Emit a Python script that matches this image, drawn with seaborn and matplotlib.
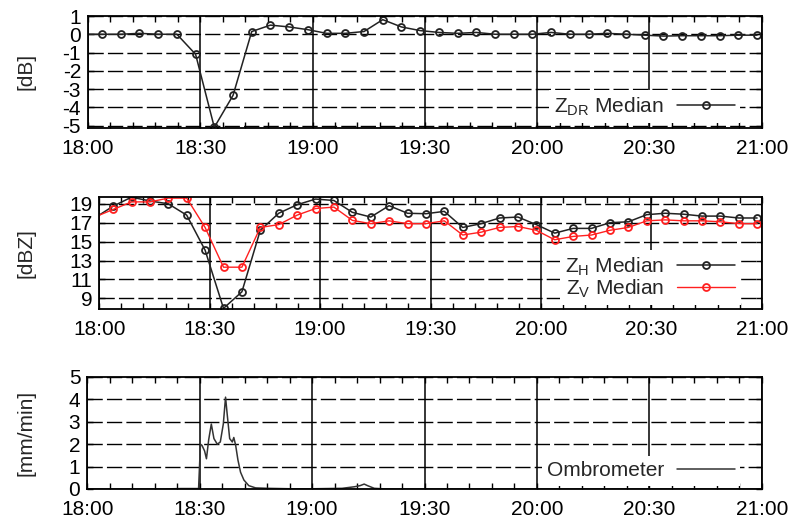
import seaborn as sns
import matplotlib.pyplot as plt
from matplotlib.ticker import FixedLocator, MultipleLocator

# time in minutes after 18:00 (first sample lies just before the axis start)
t_med = [-1.25, 3.75, 8.75, 13.75, 18.75, 23.75, 28.75, 33.75, 38.75, 43.75,
         48.75, 53.75, 58.75, 63.75, 68.75, 73.75, 78.75, 83.75, 88.75, 93.75,
         98.75, 103.75, 108.75, 113.75, 118.75, 123.75, 128.75, 133.75, 138.75,
         143.75, 148.75, 153.75, 158.75, 163.75, 168.75, 173.75, 178.75]

zdr = [0.0, 0.0, 0.0, 0.05, 0.0, 0.0, -1.1, -5.1, -3.35, 0.15, 0.5, 0.4, 0.25,
       0.05, 0.05, 0.15, 0.8, 0.4, 0.2, 0.1, 0.05, 0.1, 0.0, 0.0, 0.0, 0.1, 0.0,
       0.0, 0.05, 0.0, -0.05, -0.1, -0.08, -0.08, -0.08, -0.05, -0.05]

zh = [17.5, 18.75, 19.7, 19.3, 19.0, 17.8, 14.1, 7.95, 9.7, 16.2, 18.0, 18.9,
      19.5, 19.35, 18.1, 17.6, 18.8, 18.0, 17.95, 18.2, 16.5, 16.9, 17.5, 17.6,
      16.8, 15.9, 16.4, 16.4, 17.0, 17.1, 17.85, 18.0, 17.9, 17.7, 17.7, 17.5, 17.5]

zv = [17.6, 18.4, 19.2, 19.2, 19.6, 19.6, 16.5, 12.3, 12.3, 16.5, 16.8, 17.8,
      18.5, 18.65, 17.25, 16.9, 17.2, 16.9, 16.9, 17.2, 15.7, 16.0, 16.5, 16.6,
      16.2, 15.2, 15.55, 15.7, 16.2, 16.5, 17.2, 17.3, 17.2, 17.2, 17.1, 16.9, 16.9]

rain_t = [0, 20, 25, 29.7, 30.2, 30.6, 31.3, 31.8, 32.4, 33.1, 33.8, 34.7, 35.5,
          36.3, 36.9, 37.3, 38.0, 38.7, 39.1, 39.6, 40.2, 40.9, 41.8, 43.1, 44.9,
          48.1, 54.3, 60, 68, 71.3, 72.8, 73.9, 74.8, 76.6, 80, 120, 180]
rain = [0, 0, 0.02, 0.02, 2.0, 1.95, 1.7, 1.35, 2.2, 2.9, 2.25, 2.0, 2.1, 2.9,
        4.1, 3.4, 2.25, 2.1, 2.3, 1.95, 1.3, 0.75, 0.4, 0.15, 0.05, 0.03, 0.01,
        0.01, 0.03, 0.1, 0.15, 0.22, 0.15, 0.03, 0, 0, 0]

xticks = [0, 30, 60, 90, 120, 150, 180]
xlabels = ['18:00', '18:30', '19:00', '19:30', '20:00', '20:30', '21:00']

sns.set_style('ticks')
plt.rcParams['font.family'] = ['Liberation Sans', 'DejaVu Sans']
plt.rcParams['axes.unicode_minus'] = False

W, H = 789, 525
FS = 15
fig = plt.figure(figsize=(W / 100, H / 100), dpi=100)


def make_axes(left, top, right, bottom):
    return fig.add_axes([left / W, 1 - bottom / H, (right - left) / W, (bottom - top) / H])


def style(ax, ylim, yticks, ylabel):
    ax.set_xlim(0, 180)
    ax.set_ylim(*ylim)
    ax.xaxis.set_major_locator(FixedLocator(xticks))
    ax.set_xticklabels(xlabels)
    ax.xaxis.set_minor_locator(MultipleLocator(6))
    ax.yaxis.set_major_locator(FixedLocator(yticks))
    ax.set_yticklabels([str(v) for v in yticks])
    ax.tick_params(which='both', direction='in', top=True, right=True,
                   length=4, width=1, color='black', labelsize=FS, labelcolor='black')
    ax.tick_params(axis='x', pad=8)
    ax.tick_params(axis='y', pad=5)
    ax.grid(axis='x', which='major', color='black', lw=1.1, ls='-')
    ax.grid(axis='y', which='major', color='black', lw=1.0, ls=(0, (11, 3)))
    for sp in ax.spines.values():
        sp.set_color('black')
        sp.set_linewidth(1.3)
        sp.set_visible(True)
    ax.set_xlabel('')
    ax.set_ylabel(ylabel, fontsize=FS, va='center')
    box = ax.get_position()
    ax.yaxis.set_label_coords(26 / W, box.y0 + box.height / 2, transform=fig.transFigure)


def add_legend(ax, anchor):
    ax.legend(loc='lower right', bbox_to_anchor=anchor, borderaxespad=0,
              markerfirst=False, frameon=True, facecolor='white', edgecolor='none',
              framealpha=1, fancybox=False, fontsize=FS, handlelength=2.8,
              handletextpad=0.6, borderpad=0.25, labelspacing=0.0)


# panel 1: ZDR
ax1 = make_axes(88, 16, 761.7, 127.7)
sns.lineplot(x=t_med, y=zdr, ax=ax1, color='#222222', lw=1.1, marker='o',
             markersize=5, markerfacecolor='none', markeredgecolor='#222222',
             markeredgewidth=1.3, label='Z$_\\mathregular{DR}$ Median')
style(ax1, (-5.12, 1.0), [1, 0, -1, -2, -3, -4, -5], '[dB]')
add_legend(ax1, (0.968, 0.04))

# panel 2: ZH / ZV
ax2 = make_axes(99.3, 196.7, 761.7, 309.3)
sns.lineplot(x=t_med, y=zh, ax=ax2, color='#222222', lw=1.1, marker='o',
             markersize=5, markerfacecolor='none', markeredgecolor='#222222',
             markeredgewidth=1.3, label='Z$_\\mathregular{H}$ Median')
sns.lineplot(x=t_med, y=zv, ax=ax2, color='#ff2020', lw=1.0, marker='o',
             markersize=5, markerfacecolor='none', markeredgecolor='#ff2020',
             markeredgewidth=1.3, label='Z$_\\mathregular{V}$ Median')
style(ax2, (7.85, 19.75), [9, 11, 13, 15, 17, 19], '[dBZ]')
add_legend(ax2, (0.968, 0.035))

# panel 3: ombrometer
ax3 = make_axes(87.3, 377, 761.7, 489)
sns.lineplot(x=rain_t, y=rain, ax=ax3, color='#333333', lw=1.1, label='Ombrometer')
style(ax3, (0, 5), [0, 1, 2, 3, 4, 5], '[mm/min]')
add_legend(ax3, (0.968, 0.03))

fig.savefig('out.png', dpi=100)
